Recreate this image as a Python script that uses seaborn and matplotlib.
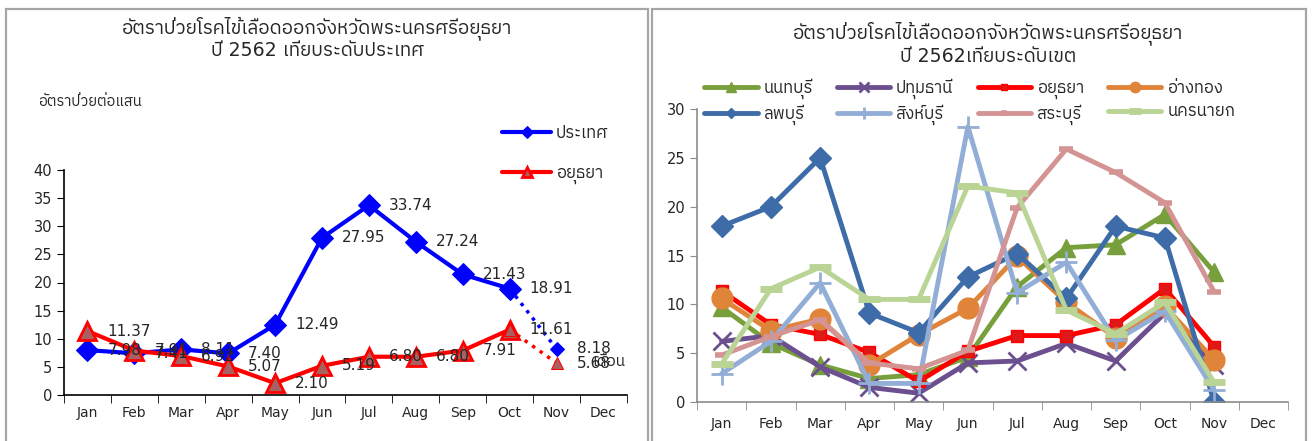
import matplotlib
matplotlib.use("Agg")
import matplotlib.pyplot as plt
from matplotlib import font_manager
from matplotlib.ft2font import FT2Font
from matplotlib.patches import Rectangle
import numpy as np
import pandas as pd
import seaborn as sns

MONTHS = ["Jan", "Feb", "Mar", "Apr", "May", "Jun", "Jul", "Aug", "Sep", "Oct", "Nov", "Dec"]

# กราฟซ้าย: ประเทศ vs อยุธยา (Jan-Nov)
COUNTRY = [7.98, 7.41, 8.11, 7.40, 12.49, 27.95, 33.74, 27.24, 21.43, 18.91, 8.18]
AYUTTHAYA = [11.37, 7.91, 6.92, 5.07, 2.10, 5.19, 6.80, 6.80, 7.91, 11.61, 5.68]

# กราฟขวา: ระดับเขต
NONTHABURI = [9.7, 6.0, 3.8, 2.4, 2.8, 4.6, 11.8, 15.8, 16.1, 19.2, 13.3]
PATHUMTHANI = [6.2, 6.8, 3.6, 1.5, 0.9, 4.0, 4.2, 6.0, 4.2, 9.1, 3.8]
ANGTHONG = [10.6, 7.3, 8.5, 3.8, 6.9, 9.6, 14.9, 10.2, 6.6, 9.8, 4.3]
LOPBURI = [18.0, 20.0, 25.0, 9.1, 7.1, 12.8, 15.2, 10.6, 18.0, 16.8, 0.0]
SINGBURI = [2.9, 6.2, 12.2, 1.9, 1.9, 28.2, 11.2, 14.3, 6.3, 9.3, 1.2]
SARABURI = [4.8, 6.7, 8.4, 4.0, 3.4, 5.3, 19.9, 25.9, 23.5, 20.4, 11.3]
NAKHONNAYOK = [3.9, 11.6, 13.8, 10.5, 10.5, 22.1, 21.4, 9.4, 7.0, 10.2, 2.0]

PROVINCES = ["นนทบุรี", "ปทุมธานี", "อยุธยา", "อ่างทอง",
             "ลพบุรี", "สิงห์บุรี", "สระบุรี", "นครนายก"]
PROVINCE_VALUES = [NONTHABURI, PATHUMTHANI, AYUTTHAYA, ANGTHONG,
                   LOPBURI, SINGBURI, SARABURI, NAKHONNAYOK]


def find_thai_font():
    """หาฟอนต์ที่มีอักษรไทย (ก) ในเครื่อง"""
    found = []
    for entry in font_manager.fontManager.ttflist:
        try:
            if 0x0E01 in FT2Font(entry.fname).get_charmap():
                found.append(entry.name)
        except Exception:
            continue
    found.sort(key=lambda n: (0 if "Thai" in n else 1, 0 if "Sans" in n else 1))
    return found[0] if found else None


sns.set_style("ticks")
thai_font = find_thai_font()
families = ["DejaVu Sans"]
if thai_font:
    families.append(thai_font)
plt.rcParams["font.family"] = families

W, H = 1314, 441
fig = plt.figure(figsize=(W / 100, H / 100), dpi=100)


def fx(px):
    return px / W


def fy(py):
    return (H - py) / H


# กรอบของแต่ละแผง
for x0, x1 in [(6, 648), (652, 1306)]:
    fig.patches.append(Rectangle((fx(x0), -0.05), fx(x1 - x0), fy(9) + 0.05,
                                 transform=fig.transFigure, fill=False,
                                 ec="#a6a6a6", lw=1.6))

x_idx = np.arange(len(COUNTRY))


def setup_month_axis(ax, spine_color, pad):
    ax.set_xlim(-0.5, 11.5)
    ax.set_xticks(np.arange(12))
    ax.set_xticklabels(MONTHS, fontsize=10)
    ax.set_xticks(np.arange(-0.5, 12, 1), minor=True)
    ax.tick_params(axis="x", which="major", length=0, pad=pad)
    ax.tick_params(axis="x", which="minor", length=6, color=spine_color, direction="out")
    ax.tick_params(axis="y", length=5, color=spine_color, direction="out", labelsize=10.5)
    for side in ["top", "right"]:
        ax.spines[side].set_visible(False)
    for side in ["left", "bottom"]:
        ax.spines[side].set_color(spine_color)
        ax.spines[side].set_linewidth(1.2)
    ax.set_xlabel("")
    ax.set_ylabel("")


# ---------------- กราฟซ้าย ----------------
ax1 = fig.add_axes([fx(64), fy(395), fx(627 - 64), fy(170) - fy(395)])
left_df = pd.DataFrame({"idx": x_idx, "ประเทศ": COUNTRY, "อยุธยา": AYUTTHAYA})
solid = left_df.iloc[:10]
dotted = left_df.iloc[9:]

sns.lineplot(data=solid, x="idx", y="ประเทศ", ax=ax1, color="#0000ff", lw=3,
             marker="D", markersize=11, markeredgecolor="#0000ff",
             markerfacecolor="#0000ff", label="ประเทศ")
sns.lineplot(data=solid, x="idx", y="อยุธยา", ax=ax1, color="#ff0000", lw=3,
             marker="^", markersize=13, markeredgecolor="#ff0000",
             markeredgewidth=2, markerfacecolor="#a86060", label="อยุธยา")
sns.lineplot(data=dotted, x="idx", y="ประเทศ", ax=ax1, color="#0000ff", lw=2.5,
             ls=":", marker="D", markersize=7, markeredgecolor="#0000ff",
             markerfacecolor="#0000ff", legend=False)
sns.lineplot(data=dotted, x="idx", y="อยุธยา", ax=ax1, color="#ff0000", lw=2.5,
             ls=":", marker="^", markersize=8, markeredgecolor="#ff0000",
             markerfacecolor="#a86060", legend=False)

for col in ["ประเทศ", "อยุธยา"]:
    for i, v in zip(left_df["idx"], left_df[col]):
        ax1.annotate(f"{v:.2f}", (i, v), xytext=(20, 0), textcoords="offset pixels",
                     ha="left", va="center", fontsize=11)

ax1.set_ylim(0, 40)
ax1.set_yticks(range(0, 41, 5))
setup_month_axis(ax1, "black", 8)
ax1.text(10.75, 5.9, "เดือน", fontsize=11, ha="left", va="center")

ax1.legend(loc="upper left", bbox_to_anchor=(fx(494), fy(116)),
           bbox_transform=fig.transFigure, frameon=False, fontsize=12,
           handlelength=2.9, handletextpad=0.3, labelspacing=1.3,
           borderpad=0, markerscale=0.6)

fig.text(fx(317), fy(28), "อัตราป่วยโรคไข้เลือดออกจังหวัดพระนครศรีอยุธยา",
         ha="center", va="center", fontsize=13.6)
fig.text(fx(317), fy(51), "ปี 2562 เทียบระดับประเทศ",
         ha="center", va="center", fontsize=13.6)
fig.text(fx(38), fy(101), "อัตราป่วยต่อแสน", ha="left", va="center", fontsize=10.5)

# ---------------- กราฟขวา ----------------
ax2 = fig.add_axes([fx(697), fy(402), fx(1288 - 697), fy(109) - fy(402)])

styles = {
    "นนทบุรี": dict(color="#77a03c", marker="^", markersize=13, markeredgewidth=1),
    "ปทุมธานี": dict(color="#6c4f8f", marker="x", markersize=13, markeredgewidth=2),
    "อยุธยา": dict(color="#ff0000", marker="s", markersize=8, markeredgewidth=1,
                   markerfacecolor="#e01818"),
    "อ่างทอง": dict(color="#e0843a", marker="o", markersize=15, markeredgewidth=1),
    "ลพบุรี": dict(color="#3d6ca8", marker="D", markersize=11, markeredgewidth=1),
    "สิงห์บุรี": dict(color="#93aed6", marker="+", markersize=16, markeredgewidth=2),
    "สระบุรี": dict(color="#d49494", marker="_", markersize=10, markeredgewidth=4),
    "นครนายก": dict(color="#bad496", marker="_", markersize=16, markeredgewidth=5),
}

right_df = pd.DataFrame({"idx": x_idx})
for name, vals in zip(PROVINCES, PROVINCE_VALUES):
    right_df[name] = vals

for name in PROVINCES:
    st = dict(styles[name])
    st.setdefault("markeredgecolor", st["color"])
    st.setdefault("markerfacecolor", st["color"])
    sns.lineplot(data=right_df, x="idx", y=name, ax=ax2, lw=3.5, label=name, **st)

ax2.set_ylim(0, 30)
ax2.set_yticks(range(0, 31, 5))
setup_month_axis(ax2, "#8c8c8c", 11)

handles, labels = ax2.get_legend_handles_labels()
order = [0, 4, 1, 5, 2, 6, 3, 7]
ax2.legend([handles[i] for i in order], [labels[i] for i in order],
           ncol=4, loc="upper left", bbox_to_anchor=(fx(696), fy(70)),
           bbox_transform=fig.transFigure, frameon=False, fontsize=12,
           handlelength=3.2, handletextpad=0.35, labelspacing=0.35,
           columnspacing=1.45, borderpad=0, markerscale=0.5)

fig.text(fx(988), fy(33), "อัตราป่วยโรคไข้เลือดออกจังหวัดพระนครศรีอยุธยา",
         ha="center", va="center", fontsize=13.6)
fig.text(fx(988), fy(56), "ปี 2562เทียบระดับเขต",
         ha="center", va="center", fontsize=13.6)

fig.savefig("out.png", dpi=100)
